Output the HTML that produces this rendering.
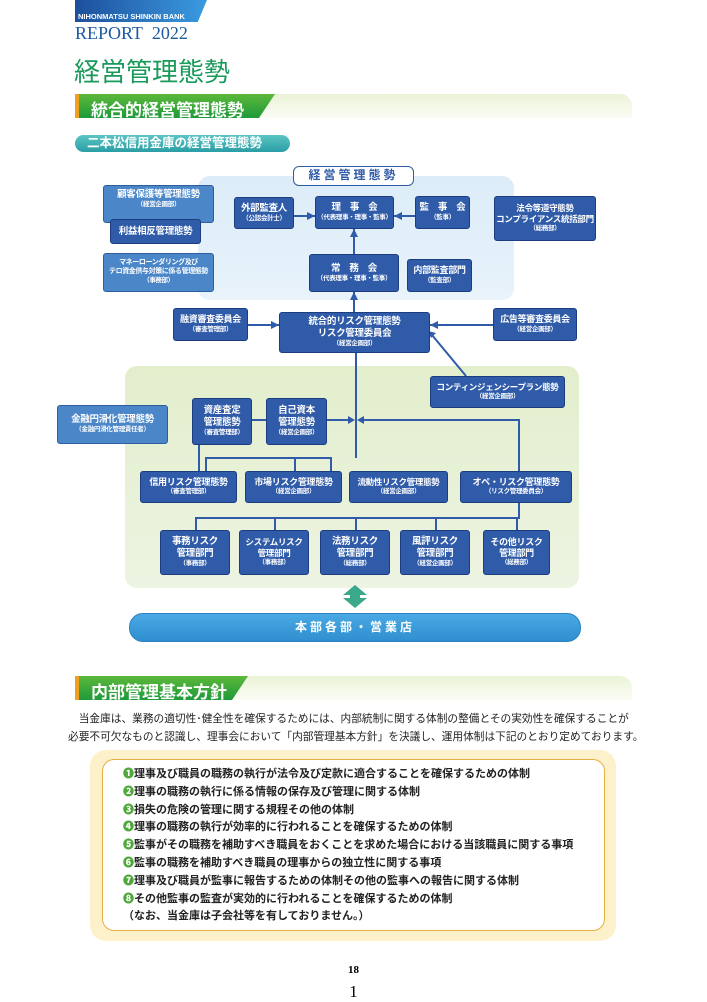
<!DOCTYPE html>
<html><head><meta charset="utf-8"><style>
*{margin:0;padding:0;box-sizing:border-box}
body{width:707px;height:1000px;background:#fff;position:relative;overflow:hidden;font-family:"Liberation Sans","Noto Sans CJK JP",sans-serif}
.a{position:absolute}
.b{position:absolute;background:#2f5ba8;border:1.5px solid #1c3d80;border-radius:3px;color:#fff;display:flex;flex-direction:column;align-items:center;justify-content:center;text-align:center;font-weight:bold;font-size:9.5px;line-height:1.25;white-space:nowrap;letter-spacing:-0.3px}
.b.l{background:#4a86c8;border-color:#2d5f9c}
.b small{font-size:6.5px;font-weight:bold;line-height:1.35}
.sec{position:absolute;left:75px;width:557px;height:24px;border-radius:0 12px 0 0;background:linear-gradient(180deg,#eaf3d6,#fbfdf6)}
.sec .g{position:absolute;left:0;top:0;height:24px;background:linear-gradient(180deg,#5cb83a,#1f9a3a);clip-path:polygon(0 0,100% 0,calc(100% - 16px) 100%,0 100%)}
.sec .o{position:absolute;left:0;top:0;width:4px;height:24px;background:#f0a020}
.sec span{position:absolute;left:16px;top:2px;color:#fff;font-size:17px;font-weight:bold}
.ln{position:absolute;background:#2f5ba8}
.li{font-size:11px;font-weight:bold;color:#222;height:17.8px;line-height:17.8px;white-space:nowrap}
.li b{color:#4fa83a}
</style></head><body>
<div class="a" style="left:75px;top:0;width:132px;height:22px;background:linear-gradient(90deg,#1d4f9c,#3a9be0);clip-path:polygon(0 0,100% 0,93% 100%,0 100%)"></div>
<div class="a" style="left:78px;top:12px;color:#fff;font-size:7.5px;font-weight:bold">NIHONMATSU SHINKIN BANK</div>
<div class="a" style="left:75px;top:23px;color:#1d5aa0;font-family:'Liberation Serif',serif;font-size:18px">REPORT&nbsp;&nbsp;2022</div>
<div class="a" style="left:74px;top:52px;color:#1a9a5a;font-size:26px">経営管理態勢</div>

<div class="sec" style="top:94px"><div class="g" style="width:200px"></div><div class="o"></div><span>統合的経営管理態勢</span></div>
<div class="a" style="left:75px;top:135px;width:215px;height:17px;border-radius:9px;background:linear-gradient(180deg,#5cc4c4,#2a9ea6);color:#fff;font-size:12.5px;font-weight:bold;padding-left:12px;line-height:17px">二本松信用金庫の経営管理態勢</div>

<div class="a" style="left:198px;top:176px;width:316px;height:124px;border-radius:12px;background:linear-gradient(180deg,#dcecf8,#e8f3fb)"></div>
<div class="a" style="left:293px;top:166px;width:121px;height:20px;border-radius:6px;background:#fff;border:1.5px solid #2f5ba8;color:#2f5ba8;font-size:12px;font-weight:bold;text-align:center;line-height:17px;letter-spacing:3px">経営管理態勢</div>

<div class="a" style="left:125px;top:366px;width:454px;height:222px;border-radius:12px;background:linear-gradient(180deg,#e2eecc,#edf4e2)"></div>

<div class="ln" style="left:294px;top:215px;width:21px;height:2px"></div>
<div class="ln" style="left:394px;top:215px;width:21px;height:2px"></div>
<div class="ln" style="left:353px;top:229px;width:2px;height:25px"></div>
<div class="ln" style="left:353px;top:292px;width:2px;height:20px"></div>
<div class="ln" style="left:248px;top:324px;width:31px;height:2px"></div>
<div class="ln" style="left:430px;top:324px;width:63px;height:2px"></div>
<div class="ln" style="left:355px;top:353px;width:2px;height:105px"></div>
<div class="ln" style="left:252px;top:419px;width:14px;height:2px"></div>
<div class="ln" style="left:327px;top:419px;width:25px;height:2px"></div>
<div class="ln" style="left:360px;top:419px;width:159px;height:2px"></div>
<div class="ln" style="left:518px;top:419px;width:2px;height:52px"></div>
<div class="ln" style="left:518px;top:503px;width:2px;height:15px"></div>
<div class="ln" style="left:198px;top:445px;width:2px;height:26px"></div>
<div class="ln" style="left:205px;top:457px;width:126px;height:2px"></div>
<div class="ln" style="left:205px;top:457px;width:2px;height:14px"></div>
<div class="ln" style="left:294px;top:457px;width:2px;height:14px"></div>
<div class="ln" style="left:330px;top:457px;width:2px;height:14px"></div>
<div class="ln" style="left:195px;top:517px;width:325px;height:2px"></div>
<div class="ln" style="left:195px;top:517px;width:2px;height:13px"></div>
<div class="ln" style="left:274px;top:517px;width:2px;height:13px"></div>
<div class="ln" style="left:355px;top:517px;width:2px;height:13px"></div>
<div class="ln" style="left:435px;top:517px;width:2px;height:13px"></div>
<div class="ln" style="left:516px;top:517px;width:2px;height:13px"></div>
<svg class="a" style="left:0;top:0" width="707" height="1000">
<g fill="#2f5ba8">
<polygon points="315,216 307,212 307,220"/><polygon points="394,216 402,212 402,220"/>
<polygon points="354,229 350,237 358,237"/><polygon points="354,292 350,300 358,300"/>
<polygon points="279,325 271,321 271,329"/><polygon points="430,325 438,321 438,329"/>
<polygon points="355,420 348,416 348,424"/><polygon points="357,420 364,416 364,424"/>
<polygon points="428,331 436,333 431,338"/>
</g>
<line x1="466" y1="376" x2="432" y2="335" stroke="#2f5ba8" stroke-width="2"/>
<polygon points="355,585 367,595 360,595 360,598 367,598 355,608 343,598 350,598 350,595 343,595" fill="#3aa88a"/>
</svg>

<div class="b l" style="left:103px;top:185px;width:111px;height:38px;padding-bottom:10px">顧客保護等管理態勢<small>（経営企画部）</small></div>
<div class="b" style="left:110px;top:219px;width:91px;height:25px">利益相反管理態勢</div>
<div class="b l" style="left:103px;top:253px;width:111px;height:39px;font-size:7px;letter-spacing:-0.4px">マネーローンダリング及び<br>テロ資金供与対策に係る管理態勢<small>（事務部）</small></div>
<div class="b" style="left:234px;top:197px;width:60px;height:32px">外部監査人<small>（公認会計士）</small></div>
<div class="b" style="left:315px;top:196px;width:79px;height:33px">理　事　会<small>（代表理事・理事・監事）</small></div>
<div class="b" style="left:415px;top:196px;width:55px;height:33px">監　事　会<small>（監事）</small></div>
<div class="b" style="left:494px;top:196px;width:102px;height:45px;font-size:8.5px">法令等遵守態勢<br>コンプライアンス統括部門<small>（総務部）</small></div>
<div class="b" style="left:309px;top:254px;width:90px;height:38px">常　務　会<small>（代表理事・理事・監事）</small></div>
<div class="b" style="left:407px;top:259px;width:65px;height:33px;font-size:9px">内部監査部門<small>（監査部）</small></div>
<div class="b" style="left:173px;top:308px;width:75px;height:33px;font-size:9px">融資審査委員会<small>（審査管理部）</small></div>
<div class="b" style="left:279px;top:312px;width:151px;height:41px">統合的リスク管理態勢<br>リスク管理委員会<small>（経営企画部）</small></div>
<div class="b" style="left:493px;top:308px;width:84px;height:33px;font-size:9px">広告等審査委員会<small>（経営企画部）</small></div>
<div class="b" style="left:430px;top:376px;width:135px;height:32px;font-size:8.5px">コンティンジェンシープラン態勢<small>（経営企画部）</small></div>
<div class="b l" style="left:57px;top:405px;width:111px;height:39px">金融円滑化管理態勢<small>（金融円滑化管理責任者）</small></div>
<div class="b" style="left:192px;top:398px;width:60px;height:47px">資産査定<br>管理態勢<small>（審査管理部）</small></div>
<div class="b" style="left:266px;top:398px;width:61px;height:47px">自己資本<br>管理態勢<small>（経営企画部）</small></div>
<div class="b" style="left:140px;top:471px;width:97px;height:32px;font-size:9px">信用リスク管理態勢<small>（審査管理部）</small></div>
<div class="b" style="left:245px;top:471px;width:97px;height:32px;font-size:9px">市場リスク管理態勢<small>（経営企画部）</small></div>
<div class="b" style="left:349px;top:471px;width:99px;height:32px;font-size:8.5px">流動性リスク管理態勢<small>（経営企画部）</small></div>
<div class="b" style="left:460px;top:471px;width:112px;height:32px;font-size:9px">オペ・リスク管理態勢<small>（リスク管理委員会）</small></div>
<div class="b" style="left:160px;top:530px;width:70px;height:45px">事務リスク<br>管理部門<small>（事務部）</small></div>
<div class="b" style="left:239px;top:530px;width:70px;height:45px;font-size:8.5px">システムリスク<br>管理部門<small>（事務部）</small></div>
<div class="b" style="left:320px;top:530px;width:70px;height:45px">法務リスク<br>管理部門<small>（総務部）</small></div>
<div class="b" style="left:400px;top:530px;width:70px;height:45px">風評リスク<br>管理部門<small>（経営企画部）</small></div>
<div class="b" style="left:483px;top:530px;width:67px;height:45px;font-size:9px">その他リスク<br>管理部門<small>（総務部）</small></div>

<div class="a" style="left:129px;top:613px;width:452px;height:29px;border-radius:14px;background:linear-gradient(180deg,#4aaae4,#2f8fd0);border:1px solid #2a80c0;color:#fff;font-size:12px;font-weight:bold;text-align:center;line-height:27px;letter-spacing:3px">本部各部・営業店</div>

<div class="sec" style="top:676px"><div class="g" style="width:173px"></div><div class="o"></div><span>内部管理基本方針</span></div>
<div class="a" style="left:68px;top:710px;width:580px;font-size:10.7px;line-height:18px;color:#222;white-space:nowrap">　当金庫は、業務の適切性･健全性を確保するためには、内部統制に関する体制の整備とその実効性を確保することが<br>必要不可欠なものと認識し、理事会において「内部管理基本方針」を決議し、運用体制は下記のとおり定めております。</div>

<div class="a" style="left:90px;top:750px;width:526px;height:191px;border-radius:16px;background:#fdf1cc"></div>
<div class="a" style="left:102px;top:759px;width:503px;height:172px;border-radius:12px;background:#fff;border:1.5px solid #e6b040;padding:6px 0 0 20px">
<div class="li"><b>❶</b>理事及び職員の職務の執行が法令及び定款に適合することを確保するための体制</div>
<div class="li"><b>❷</b>理事の職務の執行に係る情報の保存及び管理に関する体制</div>
<div class="li"><b>❸</b>損失の危険の管理に関する規程その他の体制</div>
<div class="li"><b>❹</b>理事の職務の執行が効率的に行われることを確保するための体制</div>
<div class="li"><b>❺</b>監事がその職務を補助すべき職員をおくことを求めた場合における当該職員に関する事項</div>
<div class="li"><b>❻</b>監事の職務を補助すべき職員の理事からの独立性に関する事項</div>
<div class="li"><b>❼</b>理事及び職員が監事に報告するための体制その他の監事への報告に関する体制</div>
<div class="li"><b>❽</b>その他監事の監査が実効的に行われることを確保するための体制</div>
<div class="li">（なお、当金庫は子会社等を有しておりません。）</div>
</div>

<div class="a" style="left:0;width:707px;top:964px;text-align:center;font-family:'Liberation Serif',serif;font-weight:bold;font-size:11px">18</div>
<div class="a" style="left:0;width:707px;top:982px;text-align:center;font-family:'Liberation Serif',serif;font-size:17px">1</div>
</body></html>
